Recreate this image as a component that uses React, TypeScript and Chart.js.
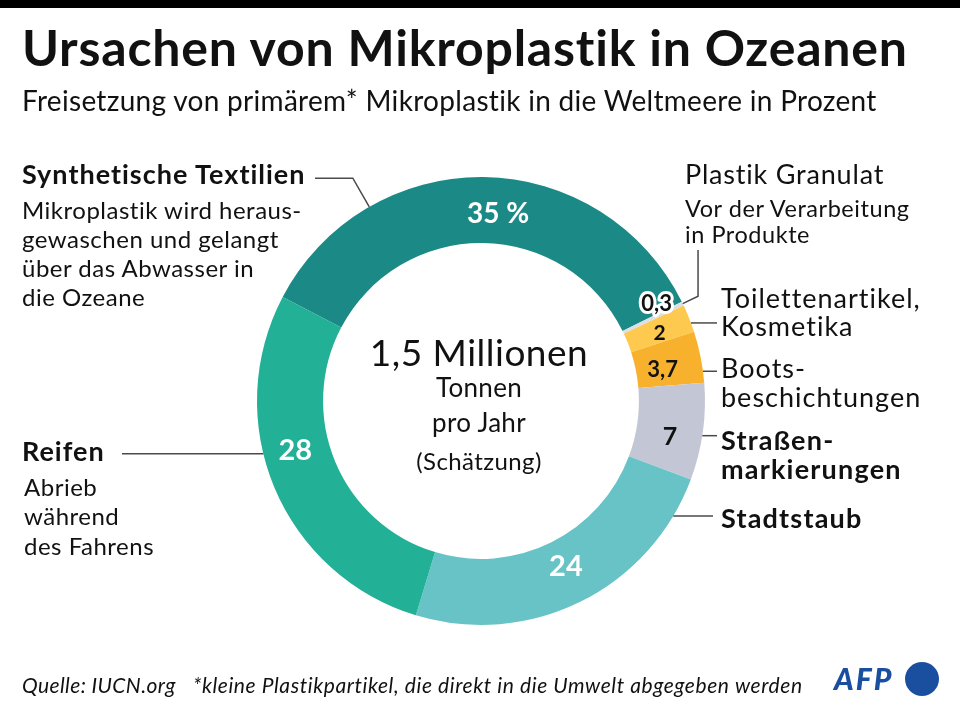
import React, { useEffect, useRef } from "react";
import { Chart, registerables } from "chart.js";

Chart.register(...registerables);

// ---- Data ----
const categories = [
  "Synthetische Textilien",
  "Plastik Granulat",
  "Toilettenartikel, Kosmetika",
  "Bootsbeschichtungen",
  "Straßenmarkierungen",
  "Stadtstaub",
  "Reifen",
];
const shares = [35, 0.3, 2, 3.7, 7, 24, 28];
const valueLabels = ["35 %", "0,3", "2", "3,7", "7", "24", "28"];

// ---- Styles ----
const sliceColors = ["#1b8a86", "#dcdfe3", "#fdc94e", "#f7b12c", "#c3c7d5", "#68c3c6", "#22b096"];
const valueTextColors = ["#ffffff", "#111111", "#111111", "#111111", "#111111", "#ffffff", "#ffffff"];
const valueFontSizes = [28, 22, 21, 22, 25, 29, 29];
const valueOutline = [false, true, false, false, false, false, false];
const valueAngleShift = [4.5, -3.3, 0.8, 1.6, 2.9, -0.8, 7.7];
const valueRadiusFrac = [0.45, 0.65, 0.5, 0.4, 0.52, 0.43, 0.52];
// leader: fraction inside the slice where it leaves the ring, radial elbow length, then horizontal to x or vertical to y
const leaderFrac = [0.257, 0.5, 0.67, 0.78, 0.54, 0.12, 0.59];
const leaderElbow = [33, 17, 0, 0, 0, 0, 0];
const leaderToX: (number | null)[] = [315, null, 717, 717, 717, 713, 122];
const leaderToY: (number | null)[] = [null, 250, null, null, null, null, null];

const FONT = "Lato, 'Noto Sans', sans-serif";

const labelPlugin = {
  id: "sliceLabels",
  afterDatasetsDraw(chart: any) {
    const ctx = chart.ctx as CanvasRenderingContext2D;
    const meta = chart.getDatasetMeta(0);
    ctx.save();
    meta.data.forEach((arc: any, i: number) => {
      const p = arc.getProps(["x", "y", "startAngle", "endAngle", "innerRadius", "outerRadius"], true);
      const la = p.startAngle + (p.endAngle - p.startAngle) * leaderFrac[i];
      const ex = p.x + p.outerRadius * Math.cos(la);
      const ey = p.y + p.outerRadius * Math.sin(la);
      const bx = p.x + (p.outerRadius + leaderElbow[i]) * Math.cos(la);
      const by = p.y + (p.outerRadius + leaderElbow[i]) * Math.sin(la);
      ctx.beginPath();
      ctx.strokeStyle = "#4a4a4a";
      ctx.lineWidth = 1.5;
      ctx.moveTo(ex, ey);
      ctx.lineTo(bx, by);
      if (leaderToX[i] !== null) ctx.lineTo(leaderToX[i] as number, by);
      if (leaderToY[i] !== null) ctx.lineTo(bx, leaderToY[i] as number);
      ctx.stroke();
    });
    meta.data.forEach((arc: any, i: number) => {
      const p = arc.getProps(["x", "y", "startAngle", "endAngle", "innerRadius", "outerRadius"], true);
      const a = (p.startAngle + p.endAngle) / 2 + (valueAngleShift[i] * Math.PI) / 180;
      const r = p.innerRadius + (p.outerRadius - p.innerRadius) * valueRadiusFrac[i];
      const tx = p.x + r * Math.cos(a);
      const ty = p.y + r * Math.sin(a);
      ctx.font = `bold ${valueFontSizes[i]}px ${FONT}`;
      ctx.textAlign = "center";
      ctx.textBaseline = "middle";
      if (valueOutline[i]) {
        ctx.lineWidth = 6;
        ctx.lineJoin = "round";
        ctx.strokeStyle = "#ffffff";
        ctx.strokeText(valueLabels[i], tx, ty);
      }
      ctx.fillStyle = valueTextColors[i];
      ctx.fillText(valueLabels[i], tx, ty);
    });
    ctx.restore();
  },
};

type TP = {
  x: number;
  y: number;
  size: number;
  ls?: number;
  bold?: boolean;
  weight?: number;
  italic?: boolean;
  color?: string;
  center?: boolean;
  children: React.ReactNode;
};
function T({ x, y, size, ls, bold, weight, italic, color, center, children }: TP) {
  return (
    <div
      style={{
        position: "absolute",
        left: x,
        top: y - size * 0.53,
        fontSize: size,
        lineHeight: 1,
        letterSpacing: ls || 0,
        fontFamily: FONT,
        fontWeight: weight || (bold ? 700 : 400),
        fontStyle: italic ? "italic" : "normal",
        color: color || "#111",
        whiteSpace: "nowrap",
        transform: center ? "translateX(-50%)" : undefined,
      }}
    >
      {children}
    </div>
  );
}

export default function App() {
  const ref = useRef<HTMLCanvasElement | null>(null);
  useEffect(() => {
    if (!ref.current) return;
    const chart = new Chart(ref.current, {
      type: "doughnut",
      data: {
        labels: categories,
        datasets: [
          {
            data: shares,
            backgroundColor: sliceColors,
            borderWidth: 0,
          },
        ],
      },
      options: {
        animation: false,
        responsive: false,
        rotation: -62.3,
        cutout: "70.5%",
        layout: { padding: { left: 257, right: 255, top: 177, bottom: 90 } },
        plugins: { legend: { display: false }, tooltip: { enabled: false }, title: { display: false } },
        events: [],
      },
      plugins: [labelPlugin],
    });
    return () => chart.destroy();
  }, []);

  return (
    <div style={{ position: "absolute", left: 0, top: 0, width: 960, height: 715, background: "#fff", overflow: "hidden" }}>
      <div style={{ position: "absolute", left: 0, top: 0, width: 960, height: 8, background: "#000" }} />
      <canvas ref={ref} width={960} height={715} style={{ position: "absolute", left: 0, top: 0, width: 960, height: 715 }} />
      <T x={22} y={48.5} size={50} ls={0.8} bold>Ursachen von Mikroplastik in Ozeanen</T>
      <T x={22} y={101} size={28} ls={0.3}>Freisetzung von primärem* Mikroplastik in die Weltmeere in Prozent</T>

      <T x={22} y={174} size={27} ls={1} bold>Synthetische Textilien</T>
      <T x={22} y={211} size={24} ls={0.5}>Mikroplastik wird heraus-</T>
      <T x={22} y={240} size={24} ls={0.5}>gewaschen und gelangt</T>
      <T x={22} y={269} size={24} ls={0.5}>über das Abwasser in</T>
      <T x={22} y={298} size={24} ls={0.5}>die Ozeane</T>

      <T x={22} y={451} size={27} ls={1} bold>Reifen</T>
      <T x={24} y={488} size={24} ls={0.5}>Abrieb</T>
      <T x={24} y={517} size={24} ls={0.5}>während</T>
      <T x={24} y={547} size={24} ls={0.5}>des Fahrens</T>

      <T x={685} y={174} size={27} ls={0.8}>Plastik Granulat</T>
      <T x={685} y={209} size={23.5} ls={0.55}>Vor der Verarbeitung</T>
      <T x={685} y={235} size={23.5} ls={0.55}>in Produkte</T>

      <T x={721} y={298} size={27} ls={1}>Toilettenartikel,</T>
      <T x={721} y={326} size={27} ls={1}>Kosmetika</T>
      <T x={721} y={368} size={27} ls={1}>Boots-</T>
      <T x={721} y={397} size={27} ls={1}>beschichtungen</T>
      <T x={721} y={440} size={27} ls={1.2} bold>Straßen-</T>
      <T x={721} y={469} size={27} ls={1.2} bold>markierungen</T>
      <T x={721} y={518} size={27} ls={1.2} bold>Stadtstaub</T>

      <T x={479} y={353} size={37} ls={0.5} center>1,5 Millionen</T>
      <T x={479} y={388} size={26} ls={0.3} center>Tonnen</T>
      <T x={479} y={423} size={26} ls={0.3} center>pro Jahr</T>
      <T x={479} y={462} size={24} ls={0.4} center>(Schätzung)</T>

      <T x={22} y={685} size={21} ls={0.4} italic>Quelle: IUCN.org</T>
      <T x={193} y={685} size={21} ls={0.6} italic>*kleine Plastikpartikel, die direkt in die Umwelt abgegeben werden</T>

      <T x={834} y={679} size={30} ls={2} weight={900} italic color="#1a4fa0">AFP</T>
      <div style={{ position: "absolute", left: 905, top: 662, width: 34, height: 34, borderRadius: "50%", background: "#1a4fa0" }} />
    </div>
  );
}
